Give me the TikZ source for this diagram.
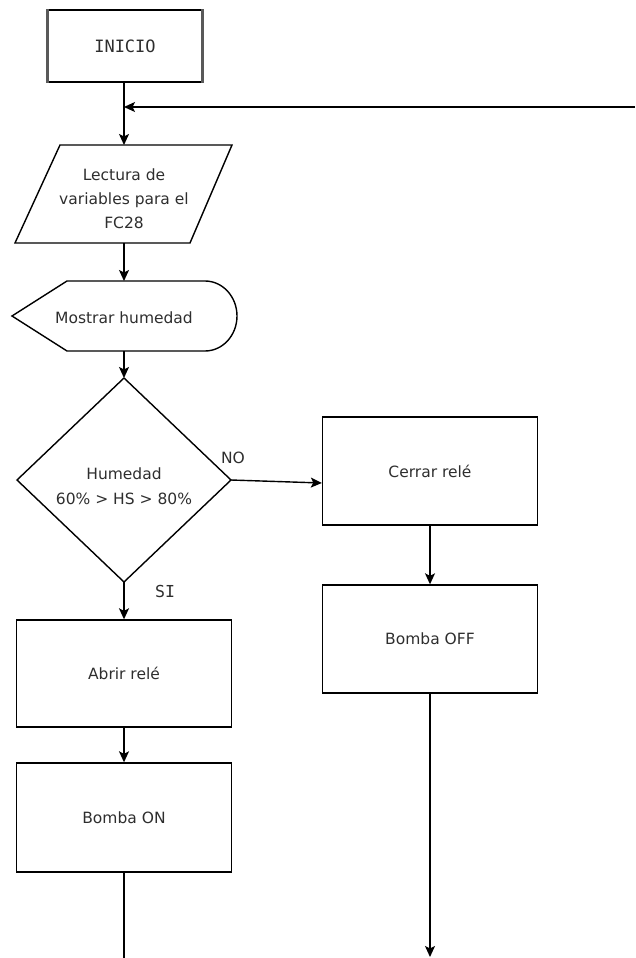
\documentclass[tikz,border=0pt]{standalone}
\usepackage{fontspec}
\setmainfont{DejaVu Sans}
\newfontfamily\monof{DejaVu Sans Mono}
\usetikzlibrary{arrows.meta}
\definecolor{txt}{HTML}{2E2E2E}
\begin{document}
\begin{tikzpicture}[x=1pt,y=-1pt,line width=1.4pt,
  procbox/.style={draw,minimum width=215pt,minimum height=108pt,inner sep=0pt,text=txt,font=\fontsize{15.5}{24}\selectfont},
  lbl/.style={text=txt,inner sep=0pt,align=center,font=\fontsize{15.5}{24}\selectfont},
  arr/.style={-{Stealth[length=11pt,width=10pt,inset=2.5pt]}}]
\useasboundingbox (0,0) rectangle (635,958);
% INICIO
\node[procbox,minimum width=154pt,minimum height=72pt,font=\fontsize{17}{24}\selectfont] (ini) at (125,46) {\monof INICIO};
\draw[line width=2.6pt,black!65] (ini.north west) -- (ini.south west);
\draw[line width=2.6pt,black!65] (ini.north east) -- (ini.south east);
\coordinate (j) at (124,107);
\coordinate (fb) at (635,107);
% parallelogram
\draw (60,145) -- (232,145) -- (190,243) -- (15,243) -- cycle;
\node[lbl] (lect) at (124,199) {Lectura de\\variables para el\\FC28};
\coordinate (lectT) at (124,145);
\coordinate (lectB) at (124,243);
% display
\draw (12,316) -- (67,281) -- (205,281) arc[start angle=-90,end angle=90,x radius=32,y radius=35] -- (67,351) -- cycle;
\node[lbl] (mos) at (124,318) {Mostrar humedad};
\coordinate (mosT) at (124,281);
\coordinate (mosB) at (124,351);
% decision
\coordinate (dT) at (124,378);
\coordinate (dR) at (231,480);
\coordinate (dB) at (124,582);
\coordinate (dL) at (17,480);
\draw (dT) -- (dR) -- (dB) -- (dL) -- cycle;
\node[lbl,font=\fontsize{15.5}{25}\selectfont] (hum) at (124,486) {Humedad\\60\% > HS > 80\%};
\node[lbl] (no) at (233,458) {NO};
\node[lbl,font=\fontsize{16.5}{24}\selectfont] (si) at (165,591) {\monof SI};
% boxes
\node[procbox] (cer) at (430,471) {Cerrar relé};
\node[procbox] (off) at (430,639) {Bomba OFF};
\node[procbox,minimum height=107pt] (abr) at (124,673.5) {Abrir relé};
\node[procbox,minimum height=109pt] (on) at (124,817.5) {Bomba ON};
\coordinate (endL) at (124,958);
\coordinate (endR) at (430,957);
% connectors
\draw (ini.south -| j) -- (j);
\draw[arr] (j) -- (lectT);
\draw[arr] (fb) -- (j);
\draw[arr] (lectB) -- (mosT);
\draw[arr] (mosB) -- (dT);
\draw[arr] (dR) -- ([yshift=-12pt]cer.west);
\draw[arr] (dB) -- (abr.north -| dB);
\draw[arr] (cer) -- (off);
\draw[arr] (abr) -- (on);
\draw (on.south) -- (endL);
\draw[arr] (off.south) -- (endR);
\end{tikzpicture}
\end{document}
